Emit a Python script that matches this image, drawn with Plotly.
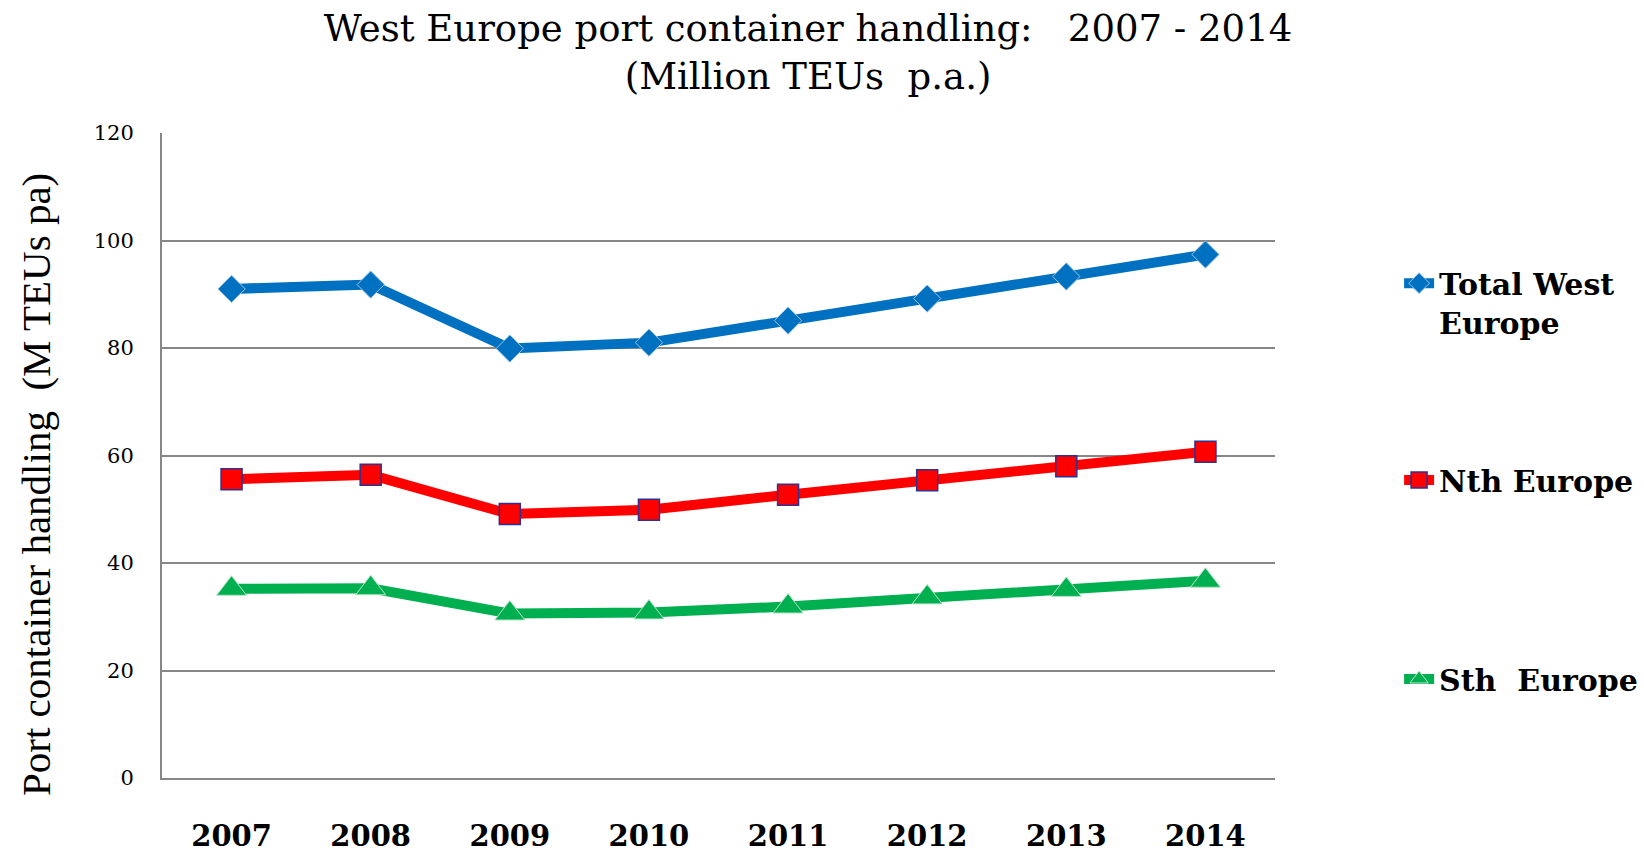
import plotly.graph_objects as go

# Container throughput, million TEUs per year
years = ["2007", "2008", "2009", "2010", "2011", "2012", "2013", "2014"]
total_west_europe = [91.0, 91.8, 79.9, 81.0, 85.1, 89.2, 93.3, 97.4]
nth_europe = [55.6, 56.4, 49.1, 49.9, 52.7, 55.4, 58.0, 60.7]
sth_europe = [35.2, 35.3, 30.6, 30.8, 31.9, 33.6, 35.0, 36.7]
y_ticks = [0, 20, 40, 60, 80, 100, 120]

GRID = "#878787"
SERIF = "DejaVu Serif"

fig = go.Figure()

fig.add_trace(go.Scatter(
    x=years, y=total_west_europe, name="Total West<br>Europe",
    mode="lines+markers", legend="legend",
    line=dict(color="#0070C0", width=10),
    marker=dict(symbol="diamond", size=21, color="#0070C0",
                line=dict(color="#9DC3E6", width=1)),
))
fig.add_trace(go.Scatter(
    x=years, y=nth_europe, name="Nth Europe",
    mode="lines+markers", legend="legend2",
    line=dict(color="#FF0000", width=10),
    marker=dict(symbol="square", size=21, color="#FF0000",
                line=dict(color="#2E3192", width=1.5)),
))
fig.add_trace(go.Scatter(
    x=years, y=sth_europe, name="Sth  Europe",
    mode="lines+markers", legend="legend3",
    line=dict(color="#00B050", width=10),
    marker=dict(symbol="triangle-up", size=26, color="#00B050",
                line=dict(color="#B7E4C7", width=1)),
))

legend_font = dict(family=SERIF, size=30, color="#000000", weight="bold")
legend_common = dict(font=legend_font, bgcolor="rgba(0,0,0,0)", borderwidth=0,
                     valign="top", xanchor="left", itemwidth=30)

fig.update_layout(
    width=1644, height=853,
    margin=dict(l=162, r=369, t=133, b=75, autoexpand=False),
    showlegend=True,
    paper_bgcolor="white", plot_bgcolor="white",
    font=dict(family=SERIF, color="#000000"),
    title=dict(
        text="West Europe port container handling:   2007 - 2014<br>(Million TEUs  p.a.)",
        font=dict(family=SERIF, size=37, color="#000000"),
        x=0.4915, xref="container", xanchor="center",
        y=0.952, yref="container", yanchor="middle",
    ),
    xaxis=dict(
        type="category", range=[-0.5, 7.5], automargin=False,
        showgrid=False, showline=True, linecolor=GRID, linewidth=2,
        ticks="", tickfont=dict(family=SERIF, size=29, color="#000000", weight="bold"),
        ticklabelstandoff=31,
    ),
    yaxis=dict(
        range=[0, 120], tickvals=y_ticks, automargin=False,
        showgrid=True, gridcolor=GRID, gridwidth=2,
        showline=True, linecolor=GRID, linewidth=2, zeroline=False,
        ticks="", tickfont=dict(family=SERIF, size=21, color="#000000"),
        ticklabelstandoff=22,
    ),
    legend=dict(x=1.1115, y=0.737, yanchor="middle", **legend_common),
    legend2=dict(x=1.1115, y=0.462, yanchor="middle", **legend_common),
    legend3=dict(x=1.1115, y=0.1535, yanchor="middle", **legend_common),
    annotations=[dict(
        text="Port container handling  (M TEUs pa)",
        xref="paper", yref="paper", x=-0.1137, y=0.455,
        xanchor="center", yanchor="middle", textangle=-90, showarrow=False,
        font=dict(family="Liberation Serif", size=41, color="#000000"),
    )],
)

fig.write_html("out.html")
